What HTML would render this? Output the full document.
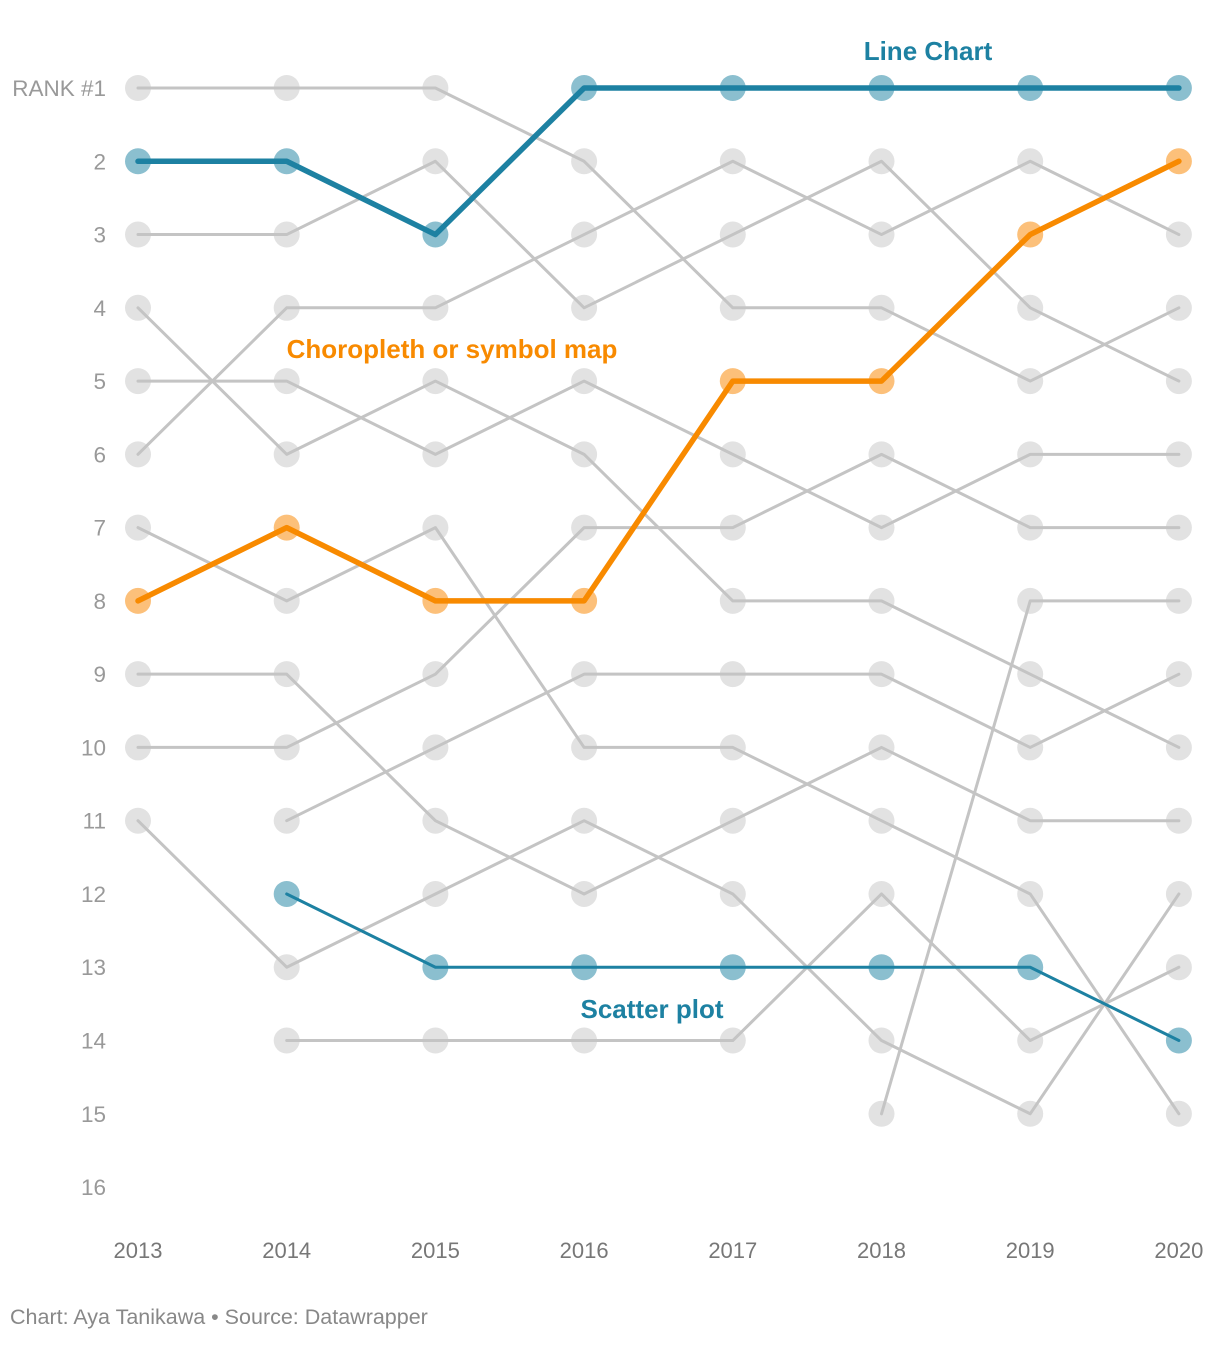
<!DOCTYPE html>
<html><head><meta charset="utf-8"><style>
body{margin:0;background:#fff;}
svg text{font-family:"Liberation Sans",sans-serif;}
</style></head><body>
<svg id="chart" width="1220" height="1340" xmlns="http://www.w3.org/2000/svg"></svg>
<script>
const years = [2013,2014,2015,2016,2017,2018,2019,2020];
const rankTicks = [1,2,3,4,5,6,7,8,9,10,11,12,13,14,15,16];
const greyA = [1,1,1,2,4,4,5,4];
const greyB = [3,3,2,4,3,2,4,5];
const greyC = [6,4,4,3,2,3,2,3];
const greyD = [4,6,5,6,8,8,9,10];
const greyE = [5,5,6,5,6,7,6,6];
const greyF = [7,8,7,10,10,11,12,15];
const greyG = [9,9,11,12,11,10,11,11];
const greyH = [10,10,9,7,7,6,7,7];
const greyI = [null,11,10,9,9,9,10,9];
const greyJ = [11,13,12,11,12,14,15,12];
const greyK = [null,14,14,14,14,12,14,13];
const greyL = [null,null,null,null,null,15,8,8];
const lineChart = [2,2,3,1,1,1,1,1];
const choropleth = [8,7,8,8,5,5,3,2];
const scatterPlot = [null,12,13,13,13,13,13,14];

const NS="http://www.w3.org/2000/svg";
const svg=document.getElementById('chart');
const x=i=>138+i*148.7;
const y=r=>88+(r-1)*73.27;
function el(tag,attrs){const e=document.createElementNS(NS,tag);for(const k in attrs)e.setAttribute(k,attrs[k]);svg.appendChild(e);return e;}

rankTicks.forEach(r=>{
  const t=el('text',{x:106,y:y(r)+8,'text-anchor':'end','font-size':22.5,fill:'#999'});
  t.textContent=r===1?'RANK #1':String(r);
  
  
});
years.forEach((yr,i)=>{
  const t=el('text',{x:x(i),y:1258,'text-anchor':'middle','font-size':22,fill:'#777'});
  t.textContent=yr;
  
  
});

function series(vals,name,lineColor,dotColor,width){
  const g=el('g',{});
  
  
  vals.forEach((v,i)=>{ if(v==null)return;
    const c=document.createElementNS(NS,'circle');
    c.setAttribute('cx',x(i));c.setAttribute('cy',y(v));c.setAttribute('r',13);c.setAttribute('fill',dotColor);
    
    
    g.appendChild(c);
  });
  let d='';
  vals.forEach((v,i)=>{ if(v==null)return; d+=(d?'L':'M')+x(i)+','+y(v); });
  const p=document.createElementNS(NS,'path');
  p.setAttribute('d',d);p.setAttribute('fill','none');p.setAttribute('stroke',lineColor);
  p.setAttribute('stroke-width',width);p.setAttribute('stroke-linejoin','round');p.setAttribute('stroke-linecap','round');
  
  
  g.appendChild(p);
}
[greyA,greyB,greyC,greyD,greyE,greyF,greyG,greyH,greyI,greyJ,greyK,greyL].forEach((s,k)=>series(s,'grey-series-'+k,'#c4c4c4','#e2e2e2',3));
series(scatterPlot,'scatter-plot-series','#1d81a2','#8bbfcf',3);
series(choropleth,'choropleth-series','#f88a00','#fcc07a',5.5);
series(lineChart,'line-chart-series','#1d81a2','#8bbfcf',5.5);

function label(txt,lx,ly,col,name){
  const t=el('text',{x:lx,y:ly,'text-anchor':'middle','font-size':26,'font-weight':'bold',fill:col});
  t.textContent=txt;
  
  
}
label('Line Chart',928,60,'#1d81a2','line-chart-label');
label('Choropleth or symbol map',452,358,'#f88a00','choropleth-label');
label('Scatter plot',652,1018,'#1d81a2','scatter-plot-label');
const f=el('text',{x:10,y:1324,'font-size':21.5,fill:'#888'});
f.textContent='Chart: Aya Tanikawa • Source: Datawrapper';


</script>
</body></html>
